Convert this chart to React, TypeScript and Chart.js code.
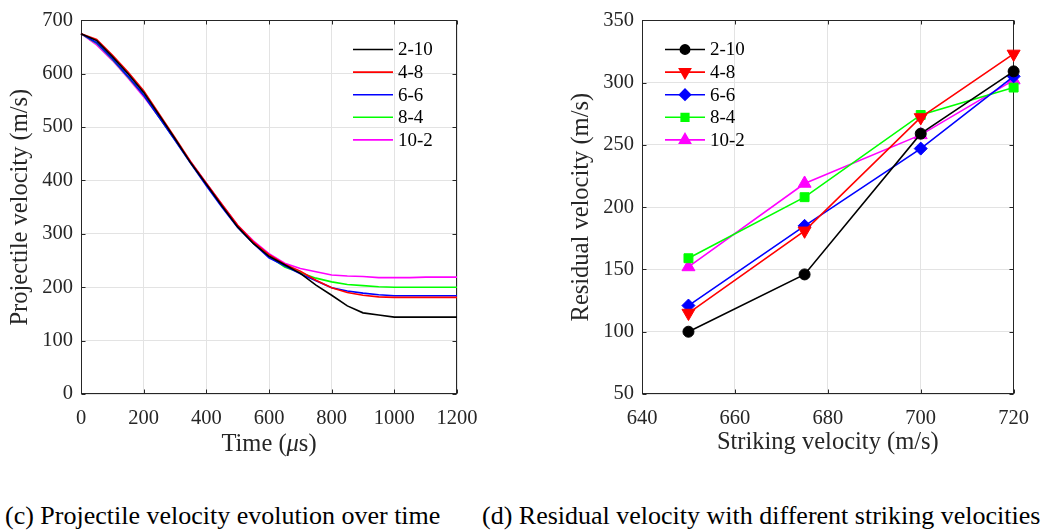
import React, { useEffect, useRef } from "react";
import { Chart, registerables } from "chart.js";
import { drawPoint } from "chart.js/helpers";

Chart.register(...registerables);

// ---------- Data ----------
const timeUs = [0, 50, 100, 150, 200, 250, 300, 350, 400, 450, 500, 550, 600, 650, 700, 750, 800, 850, 900, 950, 1000, 1050, 1100, 1150, 1200];
const vel2_10 = [675, 662, 632, 600, 565, 522, 478, 433, 393, 352, 313, 282, 258, 242, 226, 204, 185, 165, 152, 148, 144, 144, 144, 144, 144];
const vel4_8 = [675, 664, 635, 603, 568, 524, 480, 435, 395, 355, 316, 285, 261, 243, 230, 213, 199, 190, 185, 182, 181, 181, 181, 181, 181];
const vel6_6 = [675, 658, 628, 595, 560, 518, 475, 432, 390, 350, 312, 282, 255, 240, 225, 212, 199, 193, 189, 186, 184, 184, 184, 184, 184];
const vel8_4 = [675, 657, 627, 594, 560, 518, 476, 433, 392, 352, 313, 283, 258, 238, 227, 217, 210, 205, 203, 201, 200, 200, 200, 200, 200];
const vel10_2 = [675, 654, 625, 592, 557, 518, 477, 435, 395, 355, 316, 287, 263, 245, 235, 229, 223, 221, 220, 218, 218, 218, 219, 219, 219];

const strikingVelocity = [650, 675, 700, 720];
const res2_10 = [100, 146, 259, 309];
const res4_8 = [115, 181, 272, 323];
const res6_6 = [121, 185, 247, 305];
const res8_4 = [159, 208, 274, 296];
const res10_2 = [152, 219, 258, 302];

const seriesLabels = ["2-10", "4-8", "6-6", "8-4", "10-2"];
const seriesColors = ["#000000", "#ff0000", "#0000ff", "#00ff00", "#ff00ff"];
const markerStyles = ["circle", "triangle", "rectRot", "rect", "triangle"];
const markerRotations = [0, 180, 0, 0, 0];
const markerRadii = [5.5, 7.5, 6.5, 6.3, 7.5];

const leftTitleX = ["Time (", "μ", "s)"];
const leftTitleY = "Projectile velocity (m/s)";
const rightTitles = { x: "Striking velocity (m/s)", y: "Residual velocity (m/s)" };
const captions = ["(c) Projectile velocity evolution over time", "(d) Residual velocity with different striking velocities"];

const FONT = "'Liberation Serif', 'Times New Roman', serif";
const AXIS = "#262626";
const TICK_SIZE = 20.5;
const TITLE_SIZE = 24.5;

// ---------- Plugins ----------
const boxPlugin = {
  id: "matlabBox",
  beforeDatasetsDraw(chart: any) {
    const { ctx, chartArea: a, scales } = chart;
    const L = Math.round(a.left) + 0.5, R = Math.round(a.right) - 0.5;
    const T = Math.round(a.top) + 0.5, B = Math.round(a.bottom) - 0.5;
    ctx.save();
    ctx.strokeStyle = AXIS;
    ctx.lineWidth = 1;
    ctx.strokeRect(L, T, R - L, B - T);
    const len = 4;
    ctx.beginPath();
    scales.x.ticks.forEach((t: any) => {
      const px = Math.round(scales.x.getPixelForValue(t.value)) + 0.5;
      ctx.moveTo(px, B); ctx.lineTo(px, B - len);
      ctx.moveTo(px, T); ctx.lineTo(px, T + len);
    });
    scales.y.ticks.forEach((t: any) => {
      const py = Math.round(scales.y.getPixelForValue(t.value)) + 0.5;
      ctx.moveTo(L, py); ctx.lineTo(L + len, py);
      ctx.moveTo(R, py); ctx.lineTo(R - len, py);
    });
    ctx.stroke();
    ctx.restore();
  },
};

const innerLegendPlugin = {
  id: "innerLegend",
  afterDraw(chart: any, _args: any, opts: any) {
    const { ctx } = chart;
    chart.data.datasets.forEach((ds: any, i: number) => {
      const y = opts.y0 + i * opts.dy;
      ctx.save();
      ctx.strokeStyle = ds.borderColor;
      ctx.lineWidth = ds.borderWidth;
      ctx.beginPath();
      ctx.moveTo(opts.x0, y);
      ctx.lineTo(opts.x0 + opts.len, y);
      ctx.stroke();
      if (opts.markers) {
        ctx.fillStyle = ds.pointBackgroundColor;
        ctx.strokeStyle = ds.pointBorderColor;
        drawPoint(ctx, { pointStyle: ds.pointStyle, rotation: ds.pointRotation, radius: ds.pointRadius * 0.85, borderWidth: 1 }, opts.x0 + opts.len / 2, y);
      }
      ctx.fillStyle = "#000";
      ctx.font = `${opts.fontSize}px ${FONT}`;
      ctx.textAlign = "left";
      ctx.textBaseline = "middle";
      ctx.fillText(ds.label, opts.x0 + opts.len + 5, y + 1);
      ctx.restore();
    });
  },
};

// draws an x-axis title made of pieces, the middle piece italic
const mixedXTitlePlugin = {
  id: "mixedXTitle",
  afterDraw(chart: any, _args: any, opts: any) {
    const { ctx, chartArea: a } = chart;
    const parts: string[] = opts.parts;
    const fonts = parts.map((_, i) => `${i === 1 ? "italic " : ""}${opts.fontSize}px ${FONT}`);
    ctx.save();
    const widths = parts.map((p, i) => { ctx.font = fonts[i]; return ctx.measureText(p).width; });
    const total = widths.reduce((s, w) => s + w, 0);
    let x = (a.left + a.right) / 2 - total / 2;
    ctx.fillStyle = AXIS;
    ctx.textAlign = "left";
    ctx.textBaseline = "alphabetic";
    parts.forEach((p, i) => {
      ctx.font = fonts[i];
      ctx.fillText(p, x, opts.baseline);
      x += widths[i];
    });
    ctx.restore();
  },
};

function axisOptions(min: number, max: number, step: number, title: string | null, isX: boolean, fitSize: number, titlePad: any) {
  return {
    type: "linear",
    min,
    max,
    afterFit: (s: any) => {
      if (isX) s.height = fitSize;
      else s.width = fitSize;
    },
    grid: { color: "#e3e3e3", lineWidth: 1, drawTicks: false },
    border: { display: false },
    ticks: {
      stepSize: step,
      autoSkip: false,
      maxRotation: 0,
      padding: isX ? 12 : 8,
      color: AXIS,
      font: { family: FONT, size: TICK_SIZE },
      callback: (v: any) => String(v),
    },
    title: {
      display: title !== null,
      text: title || "",
      color: AXIS,
      font: { family: FONT, size: TITLE_SIZE },
      padding: titlePad,
    },
  };
}

function LeftChart() {
  const ref = useRef<HTMLCanvasElement>(null);
  useEffect(() => {
    const series = [vel2_10, vel4_8, vel6_6, vel8_4, vel10_2];
    const chart = new Chart(ref.current!, {
      type: "line",
      data: {
        datasets: series.map((vals, i) => ({
          label: seriesLabels[i],
          data: vals.map((v, j) => ({ x: timeUs[j], y: v })),
          borderColor: seriesColors[i],
          backgroundColor: seriesColors[i],
          borderWidth: 1.6,
          pointRadius: 0,
          tension: 0,
          clip: false as any,
        })),
      },
      options: {
        animation: false,
        responsive: false,
        layout: { padding: { top: 17, right: 63, left: 0, bottom: 0 } },
        scales: {
          x: axisOptions(0, 1200, 200, null, true, 76, { bottom: 12.5 }),
          y: axisOptions(0, 700, 100, leftTitleY, false, 81, { top: 6 }),
        } as any,
        plugins: {
          legend: { display: false },
          tooltip: { enabled: false },
          innerLegend: { x0: 353, y0: 49.5, dy: 22.6, len: 40, fontSize: 19, markers: false },
          mixedXTitle: { parts: leftTitleX, fontSize: TITLE_SIZE, baseline: 451 },
        } as any,
      },
      plugins: [boxPlugin, innerLegendPlugin, mixedXTitlePlugin],
    } as any);
    return () => chart.destroy();
  }, []);
  return <canvas ref={ref} width={520} height={470} style={{ position: "absolute", left: 0, top: 0, width: 520, height: 470 }} />;
}

function RightChart() {
  const ref = useRef<HTMLCanvasElement>(null);
  useEffect(() => {
    const series = [res2_10, res4_8, res6_6, res8_4, res10_2];
    const chart = new Chart(ref.current!, {
      type: "line",
      data: {
        datasets: series.map((vals, i) => ({
          label: seriesLabels[i],
          data: vals.map((v, j) => ({ x: strikingVelocity[j], y: v })),
          borderColor: seriesColors[i],
          backgroundColor: seriesColors[i],
          pointBackgroundColor: seriesColors[i],
          pointBorderColor: seriesColors[i],
          pointStyle: markerStyles[i],
          pointRotation: markerRotations[i],
          pointRadius: markerRadii[i],
          pointBorderWidth: 1,
          borderWidth: 1.6,
          tension: 0,
          clip: false as any,
        })),
      },
      options: {
        animation: false,
        responsive: false,
        layout: { padding: { top: 17, right: 23, left: 0, bottom: 0 } },
        scales: {
          x: axisOptions(640, 720, 20, rightTitles.x, true, 76, { bottom: 12.5 }),
          y: axisOptions(50, 350, 50, rightTitles.y, false, 92, { top: 17 }),
        } as any,
        plugins: {
          legend: { display: false },
          tooltip: { enabled: false },
          innerLegend: { x0: 115, y0: 49.5, dy: 22.6, len: 40, fontSize: 19, markers: true },
        } as any,
      },
      plugins: [boxPlugin, innerLegendPlugin],
    } as any);
    return () => chart.destroy();
  }, []);
  return <canvas ref={ref} width={491} height={470} style={{ position: "absolute", left: 550, top: 0, width: 491, height: 470 }} />;
}

export default function App() {
  const capStyle: React.CSSProperties = {
    position: "absolute",
    top: 501,
    fontFamily: FONT,
    fontSize: 26,
    lineHeight: "30px",
    color: "#000",
    whiteSpace: "nowrap",
  };
  return (
    <div style={{ position: "fixed", left: 0, top: 0, width: 1041, height: 532, background: "#fff", overflow: "hidden" }}>
      <LeftChart />
      <RightChart />
      <div style={{ ...capStyle, left: 5 }}>{captions[0]}</div>
      <div style={{ ...capStyle, left: 482 }}>{captions[1]}</div>
    </div>
  );
}
